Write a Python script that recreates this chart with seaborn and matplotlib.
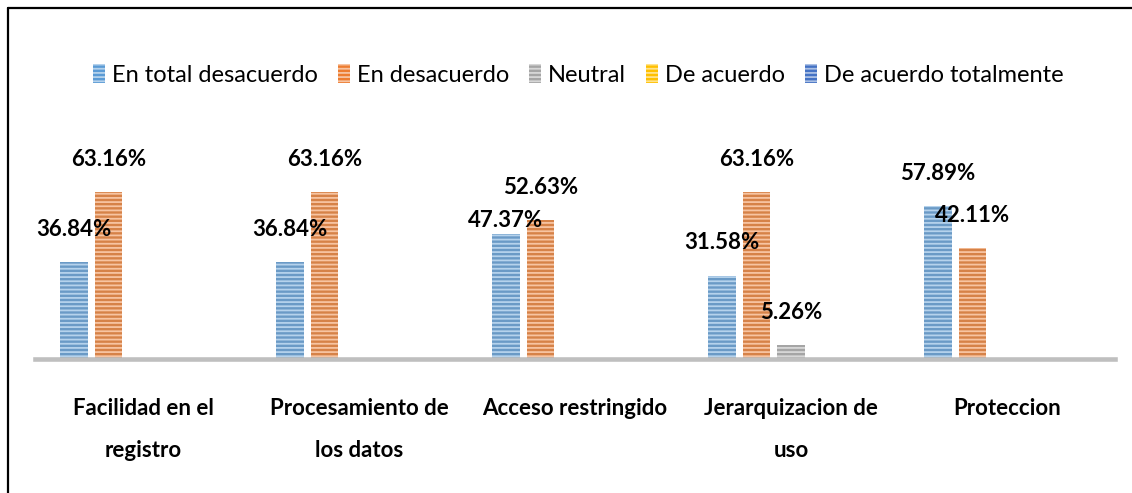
import numpy as np
import pandas as pd
import seaborn as sns
import matplotlib.pyplot as plt
from matplotlib.patches import Patch
from matplotlib.lines import Line2D
from matplotlib.colors import to_rgb

categorias = ["Facilidad en el\nregistro", "Procesamiento de\nlos datos", "Acceso restringido",
              "Jerarquizacion de\nuso", "Proteccion"]
series = ["En total desacuerdo", "En desacuerdo", "Neutral", "De acuerdo", "De acuerdo totalmente"]
en_total_desacuerdo = [36.84, 36.84, 47.37, 31.58, 57.89]
en_desacuerdo = [63.16, 63.16, 52.63, 63.16, 42.11]
neutral = [0, 0, 0, 5.26, 0]
de_acuerdo = [0, 0, 0, 0, 0]
de_acuerdo_totalmente = [0, 0, 0, 0, 0]
colores = ["#5B9BD5", "#ED7D31", "#A5A5A5", "#FFC000", "#4472C4"]

valores = [en_total_desacuerdo, en_desacuerdo, neutral, de_acuerdo, de_acuerdo_totalmente]
df = pd.DataFrame([(c, s, v) for s, vals in zip(series, valores) for c, v in zip(categorias, vals)],
                  columns=["categoria", "serie", "porcentaje"])

sns.set_style("white")
plt.rcParams['font.family'] = ['Lato', 'DejaVu Sans']
plt.rcParams['hatch.linewidth'] = 1.3

def tint(c, f=0.55):
    r = np.array(to_rgb(c))
    return tuple(r + (1 - r) * f)

fig = plt.figure(figsize=(11.32, 4.93), dpi=100)
ax = fig.add_axes([0.031, 0.2718, 0.954, 0.428])
sns.barplot(data=df, x="categoria", y="porcentaje", hue="serie", palette=colores,
            width=0.8, gap=0.2, legend=False, ax=ax)

for i, (cont, col, vals) in enumerate(zip(ax.containers, colores, valores)):
    for j, (p, v) in enumerate(zip(cont, vals)):
        p.set_hatch('----')
        p.set_edgecolor(tint(col))
        p.set_linewidth(0)
        if v <= 0:
            continue
        # en "Acceso restringido" la etiqueta azul queda pegada a la barra (como en el original)
        pad = 2 if (i == 0 and j == 2) else 16
        ax.annotate(f"{v:.2f}%", (p.get_x() + p.get_width() / 2, p.get_height()),
                    xytext=(0, pad), textcoords="offset points", ha='center', va='bottom',
                    fontsize=16, fontweight='bold', color='black')

ax.set_ylim(0, 80)
ax.set_xlim(-0.5, 4.5)
ax.set_xlabel("")
ax.set_ylabel("")
ax.set_yticks([])
for s in ["top", "right", "left"]:
    ax.spines[s].set_visible(False)
ax.spines["bottom"].set_color("#BFBFBF")
ax.spines["bottom"].set_linewidth(3.3)
ax.tick_params(axis='x', length=0, pad=28, labelsize=16, labelcolor='black')
for t in ax.get_xticklabels():
    t.set_fontweight('bold')
    t.set_linespacing(2.25)

handles = [Patch(facecolor=c, edgecolor=tint(c), hatch='----', linewidth=0) for c in colores]
fig.legend(handles, series, loc='center', bbox_to_anchor=(0.511, 0.848), ncol=5, frameon=False,
           fontsize=17, handlelength=0.5, handleheight=0.85, handletextpad=0.3, columnspacing=0.85,
           labelcolor='black')

# marco del grafico (solo arriba e izquierda visibles)
fig.add_artist(Line2D([0.0075, 1.0], [0.984, 0.984], color='black', lw=1.6, transform=fig.transFigure))
fig.add_artist(Line2D([0.0075, 0.0075], [0.0, 0.984], color='black', lw=1.6, transform=fig.transFigure))

fig.savefig("out.png", dpi=100)
